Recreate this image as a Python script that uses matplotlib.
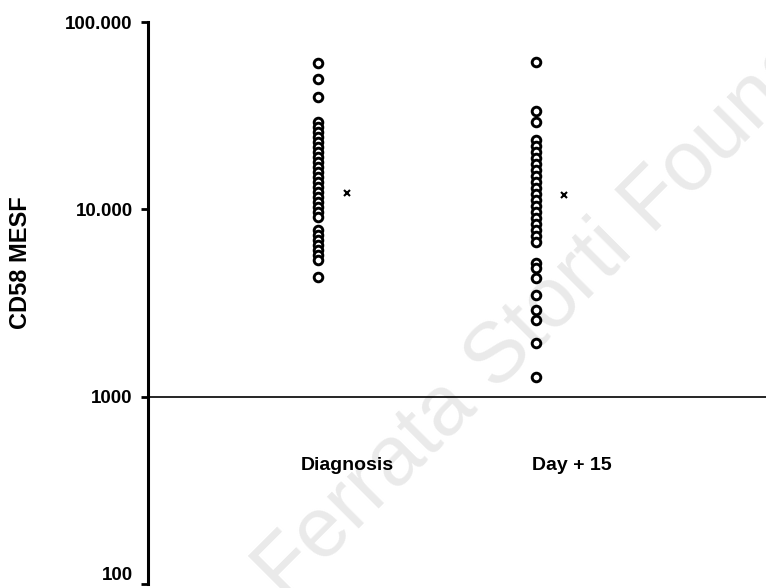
import numpy as np
import matplotlib
matplotlib.use('Agg')
import matplotlib.pyplot as plt
from matplotlib.ticker import FixedLocator, NullLocator

plt.rcParams['font.family'] = ['Liberation Sans', 'DejaVu Sans']

# valori (CD58 MESF)
groups = ['Diagnosis', 'Day + 15']
diagnosis = [60400, 49700, 39800, 29300, 27500, 25900, 24400, 22900, 21500,
             20300, 19100, 17900, 16900, 15800, 14900, 14000, 13200, 12400,
             11700, 11000, 10300, 9700, 9120, 7780, 7310, 6880, 6470, 6080,
             5720, 5380, 4365]
day15 = [61200, 33500, 29300, 23500, 21800, 20300, 18800, 17500, 16300,
         15100, 14000, 13000, 12100, 11200, 10400, 9700, 9000, 8400, 7780,
         7230, 6710, 5190, 4880, 4310, 3500, 2910, 2580, 1940, 1280]
means = [12200, 11900]
ticks = [100, 1000, 10000, 100000]
tick_labels = ['100', '1000', '10.000', '100.000']

fig = plt.figure(figsize=(7.66, 5.88), dpi=100)
ax = fig.add_axes([148/766, 4/588, 618/766, 562/588])
ax.patch.set_alpha(0)

# watermark
ax.text(0.372, -0.024, 'Ferrata Storti Foundation', transform=fig.transFigure,
        fontsize=61, color='#eaeaea', rotation=45, rotation_mode='anchor',
        ha='left', va='baseline', zorder=0, clip_on=False)

x_pos = [1, 2]
for xp, vals in zip(x_pos, [diagnosis, day15]):
    ax.plot([xp] * len(vals), vals, linestyle='none', marker='o', markersize=6.2,
            markerfacecolor='white', markeredgecolor='black', markeredgewidth=2.1, zorder=3)

ax.plot([1.133, 2.128], means, linestyle='none', marker='x', markersize=4,
        color='black', markeredgewidth=1.5, zorder=3)

ax.axhline(1000, color='black', linewidth=1.2, zorder=2)

ax.set_yscale('log')
ax.set_ylim(100, 100000)
ax.set_xlim(0.22, 3.055)
ax.yaxis.set_major_locator(FixedLocator(ticks))
ax.yaxis.set_minor_locator(NullLocator())
ax.set_yticklabels(tick_labels, fontsize=13.5, fontweight='bold')
ax.get_yticklabels()[0].set_va('bottom')
ax.set_xticks([])

for s in ['top', 'right', 'bottom']:
    ax.spines[s].set_visible(False)
ax.spines['left'].set_linewidth(2.2)
ax.tick_params(axis='y', length=5, width=2, pad=6)

fig.text(21/766, 1 - 263/588, 'CD58 MESF', rotation=90, ha='center', va='center',
         fontsize=17, fontweight='bold')

for xp, lab in zip([1.133, 2.165], groups):
    ax.text(xp, 430, lab, ha='center', va='center', fontsize=14, fontweight='bold', zorder=4)

fig.savefig('out.png', dpi=100)
